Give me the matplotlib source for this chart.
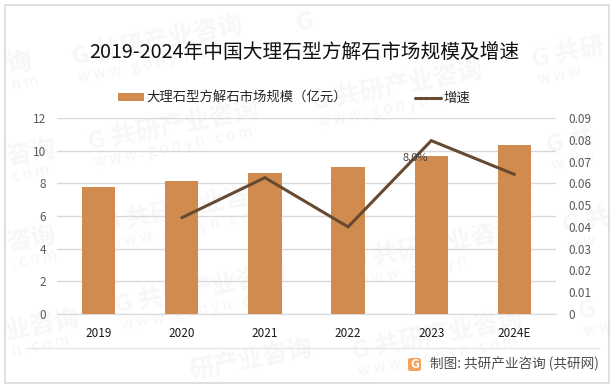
import matplotlib
matplotlib.use('Agg')
import matplotlib.pyplot as plt
from matplotlib.patches import FancyBboxPatch, Rectangle

plt.rcParams['font.family'] = ['Noto Sans CJK SC', 'DejaVu Sans']

W, H = 614, 388

years = ['2019', '2020', '2021', '2022', '2023', '2024E']
market_size = [7.78, 8.14, 8.63, 9.0, 9.67, 10.35]
growth = [None, 0.0442, 0.0626, 0.040, 0.0796, 0.0641]
left_ticks = [0, 2, 4, 6, 8, 10, 12]
right_ticks = [0, 0.01, 0.02, 0.03, 0.04, 0.05, 0.06, 0.07, 0.08, 0.09]
right_labels = ['0', '0.01', '0.02', '0.03', '0.04', '0.05', '0.06', '0.07', '0.08', '0.09']

WM_FULL = 'G 共研产业咨询'
WWW_FULL = 'w w w . g o n y n . c o m'
watermarks = [
    (6, 66, '询', 'o m'),
    (72, 58, WM_FULL, WWW_FULL),
    (296, 24, 'G', None),
    (532, 60, 'G 共研', 'w w w'),
    (6, 158, '咨询', 'c o m'),
    (88, 143, WM_FULL, WWW_FULL),
    (312, 103, WM_FULL, 'w w w . g o n y n . c o'),
    (546, 146, 'G 共', 'w w w'),
    (6, 244, '咨询', '. c o m'),
    (103, 225, WM_FULL, WWW_FULL),
    (350, 262, WM_FULL, 'w w w . g o n y n'),
    (562, 226, 'G 共', 'w w'),
    (6, 332, '业咨询', 'n . c o m'),
    (115, 306, WM_FULL, WWW_FULL),
    (352, 352, WM_FULL, 'w w w . g o n y n . c o m'),
    (578, 312, 'G', 'w w'),
    (190, 372, '研产业咨询', None),
]


def fx(px):
    return px / W


def fy(py):
    return 1 - py / H


fig = plt.figure(figsize=(W / 100, H / 100), dpi=100, facecolor='white')

# faint site watermark sits behind everything
for x, y, main, sub in watermarks:
    fig.text(fx(x), fy(y), main, fontsize=18, fontweight='bold', color='#f7f7f7',
             rotation=11, rotation_mode='anchor', ha='left', va='center', zorder=-2)
    if sub:
        fig.text(fx(x + 6), fy(y + 20), sub, fontsize=11, color='#f5f5f5',
                 rotation=11, rotation_mode='anchor', ha='left', va='center', zorder=-2)

fig.add_artist(Rectangle((fx(4.5), fy(383)), fx(604.5), 378 / H, fill=False, edgecolor='#d9d9d9',
                         linewidth=1.2, transform=fig.transFigure))

ax = fig.add_axes([fx(57), fy(314), fx(499), 196 / H])
ax.patch.set_alpha(0)
x_pos = range(len(years))
bars = ax.bar(x_pos, market_size, width=0.4, color='#d18b4e', zorder=2,
              label='大理石型方解石市场规模（亿元）')
ax.set_xlim(-0.5, 5.5)
ax.set_ylim(0, 12)
ax.set_yticks(left_ticks)
ax.set_xticks(list(x_pos))
ax.set_xticklabels(years)
ax.grid(axis='y', color='#d9d9d9', linewidth=1, zorder=0)
ax.set_axisbelow(True)
for s in ['top', 'left', 'right']:
    ax.spines[s].set_visible(False)
ax.spines['bottom'].set_color('#d9d9d9')
ax.tick_params(axis='x', length=0, pad=9.5, labelsize=8.5, labelcolor='#1a1a1a')
ax.tick_params(axis='y', length=0, pad=8, labelsize=8.5, labelcolor='#595959')

ax2 = ax.twinx()
ax2.patch.set_alpha(0)
line_x = [i for i, g in zip(x_pos, growth) if g is not None]
line_y = [g for g in growth if g is not None]
line, = ax2.plot(line_x, line_y, color='#674a32', linewidth=2.2, solid_capstyle='round',
                 solid_joinstyle='miter', label='增速', zorder=3)
ax2.set_ylim(0, 0.09)
ax2.set_yticks(right_ticks)
ax2.set_yticklabels(right_labels)
ax2.tick_params(axis='y', length=0, pad=9, labelsize=8.5, labelcolor='#595959')
for s in ax2.spines.values():
    s.set_visible(False)

ax2.annotate('8.0%', (4, growth[4]), xytext=(-16, -17), textcoords='offset pixels', fontsize=8,
             color='#404040', ha='center', va='center')

fig.text(fx(304), fy(52), '2019-2024年中国大理石型方解石市场规模及增速', fontsize=14.2, color='#111111',
         ha='center', va='center')

fig.legend(handles=[bars, line], loc='center', bbox_to_anchor=(fx(294), fy(98)), ncol=2, frameon=False,
           fontsize=9.6, handlelength=1.95, handleheight=0.55, handletextpad=0.2, columnspacing=5.1,
           labelcolor='#262626')

# footer rule, logo and source line
fig.add_artist(plt.Line2D([fx(26), fx(599)], [fy(348), fy(348)], color='#e6e6e6', linewidth=1))
fig.add_artist(FancyBboxPatch((fx(408), fy(371)), fx(13), 13 / H, boxstyle='round,pad=0,rounding_size=0.005',
                              facecolor='#f5a25d', edgecolor='none', transform=fig.transFigure))
fig.text(fx(414.5), fy(364.5), 'G', fontsize=9, fontweight='bold', color='white', ha='center', va='center')
fig.text(fx(430.5), fy(364), '制图: 共研产业咨询 (共研网)', fontsize=9.8, fontweight='medium', color='#4d4d4d',
         ha='left', va='center')

fig.savefig('out.png', dpi=100)
